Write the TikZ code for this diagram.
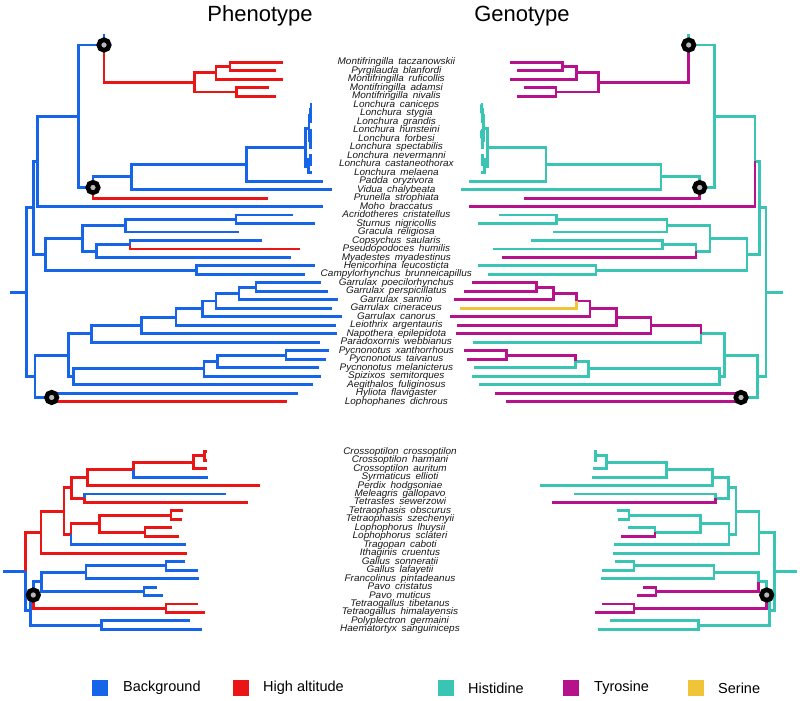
\documentclass[tikz,border=0pt]{standalone}
\usepackage{fontspec}
\setmainfont{Liberation Sans}
\newfontfamily\labfont{Liberation Sans}[WordSpace=1.7,FakeStretch=1.04]
\definecolor{cblue}{RGB}{22,100,232}
\definecolor{cred}{RGB}{234,22,22}
\definecolor{cteal}{RGB}{58,196,180}
\definecolor{cmag}{RGB}{182,18,140}
\definecolor{cyel}{RGB}{240,196,56}
\pgfdeclarelayer{bg}
\pgfsetlayers{bg,main}
\newcommand\mynd[4]{\coordinate (L#2) at (#3,#4);\coordinate (R#2) at ({#1-(#3)},#4);}
\newcommand\mytip[5]{\mynd{#1}{#2}{#3}{#4}\begin{pgfonlayer}{bg}\draw[gline] (L#2) -- (R#2);\end{pgfonlayer}\node[lab] (T#2) at ({(#1)/2},{#4+2.5}) {#5};}
\newcommand\mybr[4]{\draw[branch,#3] (L#1) |- (L#2);\draw[branch,#4] (R#1) |- (R#2);}
\newcommand\myring[1]{\node[ringnode] (CL#1) at (L#1) {};\node[ringnode] (CR#1) at (R#1) {};}
\begin{document}
\begin{tikzpicture}[x=1pt,y=-1pt,
  branch/.style={line width=2.9pt},
  gline/.style={draw=black!17,line width=1pt},
  lab/.style={font=\labfont\itshape\fontsize{9.6}{9.6}\selectfont,anchor=base,inner sep=0pt,text=black!90},
  ringnode/.style={circle,draw=black,fill=black!28,line width=4.6pt,minimum size=10.5pt,inner sep=0pt},
  title/.style={font=\fontsize{22}{22}\selectfont,anchor=base,inner sep=0pt},
  legsq/.style={minimum size=16pt,inner sep=0pt},
  legtx/.style={font=\fontsize{14.5}{14.5}\selectfont,anchor=west,inner sep=0pt},
]
\useasboundingbox[fill=white] (0,0) rectangle (800,701);

\node[title] (ph) at (260,22) {Phenotype};
\node[title] (ge) at (522,22) {Genotype};

% ---------- upper tree tips (axis 792.7) ----------
\mytip{792.7}{u0}{282.7}{62.3}{Montifringilla taczanowskii}
\mytip{792.7}{u1}{276}{70.8}{Pyrgilauda blanfordi}
\mytip{792.7}{u2}{282.7}{79.3}{Montifringilla ruficollis}
\mytip{792.7}{u3}{269}{87.8}{Montifringilla adamsi}
\mytip{792.7}{u4}{276}{96.2}{Montifringilla nivalis}
\mytip{792.7}{u5}{312}{104.7}{Lonchura caniceps}
\mytip{792.7}{u6}{312}{113.2}{Lonchura stygia}
\mytip{792.7}{u7}{312}{121.7}{Lonchura grandis}
\mytip{792.7}{u8}{312}{130.2}{Lonchura hunsteini}
\mytip{792.7}{u9}{312}{138.7}{Lonchura forbesi}
\mytip{792.7}{u10}{312}{147.2}{Lonchura spectabilis}
\mytip{792.7}{u11}{312}{155.6}{Lonchura nevermanni}
\mytip{792.7}{u12}{312}{164.1}{Lonchura castaneothorax}
\mytip{792.7}{u13}{312}{172.6}{Lonchura melaena}
\mytip{792.7}{u14}{323.3}{181.1}{Padda oryzivora}
\mytip{792.7}{u15}{331.7}{189.6}{Vidua chalybeata}
\mytip{792.7}{u16}{268.3}{198.1}{Prunella strophiata}
\mytip{792.7}{u17}{323.3}{206.5}{Moho braccatus}
\mytip{792.7}{u18}{293.3}{215.0}{Acridotheres cristatellus}
\mytip{792.7}{u19}{315}{223.5}{Sturnus nigricollis}
\mytip{792.7}{u20}{239.3}{232.0}{Gracula religiosa}
\mytip{792.7}{u21}{261.7}{240.5}{Copsychus saularis}
\mytip{792.7}{u22}{300}{249.0}{Pseudopodoces humilis}
\mytip{792.7}{u23}{291}{257.5}{Myadestes myadestinus}
\mytip{792.7}{u24}{315}{265.9}{Henicorhina leucosticta}
\mytip{792.7}{u25}{305}{274.4}{Campylorhynchus brunneicapillus}
\mytip{792.7}{u26}{321}{282.9}{Garrulax poecilorhynchus}
\mytip{792.7}{u27}{328.3}{291.4}{Garrulax perspicillatus}
\mytip{792.7}{u28}{338.3}{299.9}{Garrulax sannio}
\mytip{792.7}{u29}{332.3}{308.4}{Garrulax cineraceus}
\mytip{792.7}{u30}{342.3}{316.9}{Garrulax canorus}
\mytip{792.7}{u31}{335.5}{325.4}{Leiothrix argentauris}
\mytip{792.7}{u32}{336.5}{333.8}{Napothera epilepidota}
\mytip{792.7}{u33}{320}{342.3}{Paradoxornis webbianus}
\mytip{792.7}{u34}{328.5}{350.8}{Pycnonotus xanthorrhous}
\mytip{792.7}{u35}{326}{359.3}{Pycnonotus taivanus}
\mytip{792.7}{u36}{318.7}{367.8}{Pycnonotus melanicterus}
\mytip{792.7}{u37}{321}{376.2}{Spizixos semitorques}
\mytip{792.7}{u38}{313.3}{384.7}{Aegithalos fuliginosus}
\mytip{792.7}{u39}{298}{393.2}{Hyliota flavigaster}
\mytip{792.7}{u40}{286.7}{401.7}{Lophophanes dichrous}

% ---------- upper tree internal nodes ----------
\mynd{792.7}{M3}{230}{66.55}
\mynd{792.7}{M2}{216}{72.9}
\mynd{792.7}{M5}{236.7}{92.0}
\mynd{792.7}{M1}{194.3}{82.45}
\mynd{792.7}{M0}{104}{45}
\mynd{792.7}{M0t}{104}{34}
\mynd{792.7}{LA11}{311}{108.95}
\mynd{792.7}{LA1}{310.2}{115.3}
\mynd{792.7}{LA21}{311}{134.45}
\mynd{792.7}{LA2}{310.2}{140.8}
\mynd{792.7}{LA}{309}{128.05}
\mynd{792.7}{LB1}{310.3}{159.85}
\mynd{792.7}{LB}{308.3}{166.2}
\mynd{792.7}{L0}{305.5}{147.1}
\mynd{792.7}{X}{246.7}{164.1}
\mynd{792.7}{W}{131.7}{176.85}
\mynd{792.7}{V}{93}{187.5}
\mynd{792.7}{N8}{78.3}{116.25}
\mynd{792.7}{N2}{37.7}{161.4}
\mynd{792.7}{AS}{236}{219.25}
\mynd{792.7}{N6}{125.7}{225.6}
\mynd{792.7}{CP}{130}{244.75}
\mynd{792.7}{N7}{96.7}{251.1}
\mynd{792.7}{N5}{82.7}{238.35}
\mynd{792.7}{HC}{196.7}{270.15}
\mynd{792.7}{N3}{45.7}{254.25}
\mynd{792.7}{N1}{33.3}{207.8}
\mynd{792.7}{G6}{256}{287.15}
\mynd{792.7}{G5}{239}{293.5}
\mynd{792.7}{G4}{216}{300.95}
\mynd{792.7}{G3}{202.7}{308.9}
\mynd{792.7}{G2}{176}{317.15}
\mynd{792.7}{G1}{141.7}{325.5}
\mynd{792.7}{G0}{91.7}{333.9}
\mynd{792.7}{XT}{286}{355.05}
\mynd{792.7}{P2}{217.3}{361.4}
\mynd{792.7}{P1}{204}{368.8}
\mynd{792.7}{N11}{73.3}{376.75}
\mynd{792.7}{N9}{68.3}{355.3}
\mynd{792.7}{N10}{51.7}{397.45}
\mynd{792.7}{N4}{35}{376.4}
\mynd{792.7}{U}{26.7}{292.1}
\mynd{792.7}{Us}{10}{292.1}

% ---------- upper tree branches ----------
\draw[branch,cblue] (LUs) -- (LU); \draw[branch,cteal] (RUs) -- (RU);
\draw[branch,cblue] (LM0) -- (LM0t); \draw[branch,cteal] (RM0) -- (RM0t);
\mybr{U}{N1}{cblue}{cteal}
\mybr{U}{N4}{cblue}{cteal}
\mybr{N1}{N2}{cblue}{cteal}
\mybr{N1}{N3}{cblue}{cteal}
\mybr{N2}{N8}{cblue}{cteal}
\mybr{N2}{u17}{cblue}{cmag}
\mybr{N8}{M0}{cblue}{cteal}
\mybr{N8}{V}{cblue}{cteal}
\mybr{M0}{M1}{cred}{cmag}
\mybr{M1}{M2}{cred}{cmag}
\mybr{M1}{M5}{cred}{cmag}
\mybr{M2}{M3}{cred}{cmag}
\mybr{M2}{u2}{cred}{cmag}
\mybr{M3}{u0}{cred}{cmag}
\mybr{M3}{u1}{cred}{cmag}
\mybr{M5}{u3}{cred}{cmag}
\mybr{M5}{u4}{cred}{cmag}
\mybr{V}{W}{cblue}{cteal}
\mybr{V}{u16}{cred}{cmag}
\mybr{W}{X}{cblue}{cteal}
\mybr{W}{u15}{cblue}{cteal}
\mybr{X}{L0}{cblue}{cteal}
\mybr{X}{u14}{cblue}{cteal}
\mybr{L0}{LA}{cblue}{cteal}
\mybr{L0}{LB}{cblue}{cteal}
\mybr{LA}{LA1}{cblue}{cteal}
\mybr{LA}{LA2}{cblue}{cteal}
\mybr{LA1}{LA11}{cblue}{cteal}
\mybr{LA1}{u7}{cblue}{cteal}
\mybr{LA11}{u5}{cblue}{cteal}
\mybr{LA11}{u6}{cblue}{cteal}
\mybr{LA2}{LA21}{cblue}{cteal}
\mybr{LA2}{u10}{cblue}{cteal}
\mybr{LA21}{u8}{cblue}{cteal}
\mybr{LA21}{u9}{cblue}{cteal}
\mybr{LB}{LB1}{cblue}{cteal}
\mybr{LB}{u13}{cblue}{cteal}
\mybr{LB1}{u11}{cblue}{cteal}
\mybr{LB1}{u12}{cblue}{cteal}
\mybr{N3}{N5}{cblue}{cteal}
\mybr{N3}{HC}{cblue}{cteal}
\mybr{HC}{u24}{cblue}{cteal}
\mybr{HC}{u25}{cblue}{cteal}
\mybr{N5}{N6}{cblue}{cteal}
\mybr{N5}{N7}{cblue}{cteal}
\mybr{N6}{AS}{cblue}{cteal}
\mybr{N6}{u20}{cblue}{cteal}
\mybr{AS}{u18}{cblue}{cteal}
\mybr{AS}{u19}{cblue}{cteal}
\mybr{N7}{CP}{cblue}{cteal}
\mybr{N7}{u23}{cblue}{cmag}
\mybr{CP}{u21}{cblue}{cteal}
\mybr{CP}{u22}{cred}{cteal}
\mybr{N4}{N9}{cblue}{cteal}
\mybr{N4}{N10}{cblue}{cteal}
\mybr{N10}{u39}{cblue}{cmag}
\mybr{N10}{u40}{cred}{cmag}
\mybr{N9}{G0}{cblue}{cteal}
\mybr{N9}{N11}{cblue}{cteal}
\mybr{G0}{G1}{cblue}{cmag}
\mybr{G0}{u33}{cblue}{cteal}
\mybr{G1}{G2}{cblue}{cmag}
\mybr{G1}{u32}{cblue}{cmag}
\mybr{G2}{G3}{cblue}{cmag}
\mybr{G2}{u31}{cblue}{cmag}
\mybr{G3}{G4}{cblue}{cmag}
\mybr{G3}{u30}{cblue}{cmag}
\mybr{G4}{G5}{cblue}{cmag}
\mybr{G4}{u29}{cblue}{cyel}
\mybr{G5}{G6}{cblue}{cmag}
\mybr{G5}{u28}{cblue}{cmag}
\mybr{G6}{u26}{cblue}{cmag}
\mybr{G6}{u27}{cblue}{cmag}
\mybr{N11}{P1}{cblue}{cteal}
\mybr{N11}{u38}{cblue}{cteal}
\mybr{P1}{P2}{cblue}{cteal}
\mybr{P1}{u37}{cblue}{cteal}
\mybr{P2}{XT}{cblue}{cmag}
\mybr{P2}{u36}{cblue}{cteal}
\mybr{XT}{u34}{cblue}{cmag}
\mybr{XT}{u35}{cblue}{cmag}

% ---------- lower tree tips (axis 800) ----------
\mytip{800}{l0}{206.5}{451.7}{Crossoptilon crossoptilon}
\mytip{800}{l1}{206.5}{460.16}{Crossoptilon harmani}
\mytip{800}{l2}{206.7}{468.62}{Crossoptilon auritum}
\mytip{800}{l3}{208.3}{477.08}{Syrmaticus ellioti}
\mytip{800}{l4}{260}{485.54}{Perdix hodgsoniae}
\mytip{800}{l5}{225.7}{494.0}{Meleagris gallopavo}
\mytip{800}{l6}{248.3}{502.46}{Tetrastes sewerzowi}
\mytip{800}{l7}{183.3}{510.92}{Tetraophasis obscurus}
\mytip{800}{l8}{181.7}{519.38}{Tetraophasis szechenyii}
\mytip{800}{l9}{171.7}{527.84}{Lophophorus lhuysii}
\mytip{800}{l10}{179.3}{536.3}{Lophophorus sclateri}
\mytip{800}{l11}{185.7}{544.76}{Tragopan caboti}
\mytip{800}{l12}{187.3}{553.22}{Ithaginis cruentus}
\mytip{800}{l13}{185}{561.68}{Gallus sonneratii}
\mytip{800}{l14}{197.7}{570.14}{Gallus lafayetii}
\mytip{800}{l15}{199}{578.6}{Francolinus pintadeanus}
\mytip{800}{l16}{156.7}{587.06}{Pavo cristatus}
\mytip{800}{l17}{163.3}{595.52}{Pavo muticus}
\mytip{800}{l18}{198.3}{603.98}{Tetraogallus tibetanus}
\mytip{800}{l19}{205}{612.44}{Tetraogallus himalayensis}
\mytip{800}{l20}{190}{620.9}{Polyplectron germaini}
\mytip{800}{l21}{202}{629.36}{Haematortyx sanguiniceps}

% ---------- lower tree internal nodes ----------
\mynd{800}{C2}{204.5}{455.93}
\mynd{800}{C1}{193.3}{462.3}
\mynd{800}{C3}{133.3}{469.7}
\mynd{800}{C4}{87.3}{477.6}
\mynd{800}{C6}{84.3}{498.23}
\mynd{800}{C5}{71.7}{487.9}
\mynd{800}{C10}{171}{515.15}
\mynd{800}{C11}{145}{532.07}
\mynd{800}{C9}{99.3}{523.6}
\mynd{800}{C8}{71}{534.2}
\mynd{800}{C7}{64}{511.05}
\mynd{800}{C12}{41}{532.1}
\mynd{800}{Gs}{166}{565.9}
\mynd{800}{GF}{86}{572.25}
\mynd{800}{Pv}{144}{591.3}
\mynd{800}{S}{41.7}{581.8}
\mynd{800}{Tg}{166}{608.2}
\mynd{800}{Q}{33.3}{595.0}
\mynd{800}{PH}{101.7}{625.1}
\mynd{800}{R}{30.7}{610.05}
\mynd{800}{K}{25.7}{571.1}
\mynd{800}{Ks}{3.3}{571.1}

% ---------- lower tree branches ----------
\draw[branch,cblue] (LKs) -- (LK); \draw[branch,cteal] (RKs) -- (RK);
\mybr{K}{C12}{cred}{cteal}
\mybr{K}{R}{cblue}{cteal}
\mybr{C12}{C7}{cred}{cteal}
\mybr{C12}{l12}{cred}{cteal}
\mybr{C7}{C5}{cred}{cteal}
\mybr{C7}{C8}{cred}{cteal}
\mybr{C5}{C4}{cred}{cteal}
\mybr{C5}{C6}{cred}{cteal}
\mybr{C4}{C3}{cred}{cteal}
\mybr{C4}{l4}{cred}{cteal}
\mybr{C3}{C1}{cred}{cteal}
\mybr{C3}{l3}{cblue}{cteal}
\mybr{C1}{C2}{cred}{cteal}
\mybr{C1}{l2}{cred}{cteal}
\mybr{C2}{l0}{cred}{cteal}
\mybr{C2}{l1}{cred}{cteal}
\mybr{C6}{l5}{cblue}{cteal}
\mybr{C6}{l6}{cred}{cmag}
\mybr{C8}{C9}{cred}{cteal}
\mybr{C8}{l11}{cblue}{cteal}
\mybr{C9}{C10}{cred}{cteal}
\mybr{C9}{C11}{cred}{cteal}
\mybr{C10}{l7}{cred}{cteal}
\mybr{C10}{l8}{cred}{cteal}
\mybr{C11}{l9}{cred}{cteal}
\mybr{C11}{l10}{cred}{cmag}
\mybr{R}{Q}{cblue}{cteal}
\mybr{R}{PH}{cblue}{cteal}
\mybr{Q}{S}{cblue}{cteal}
\mybr{Q}{Tg}{cred}{cmag}
\mybr{S}{GF}{cblue}{cteal}
\mybr{S}{Pv}{cblue}{cmag}
\mybr{GF}{Gs}{cblue}{cteal}
\mybr{GF}{l15}{cblue}{cteal}
\mybr{Gs}{l13}{cblue}{cteal}
\mybr{Gs}{l14}{cblue}{cteal}
\mybr{Pv}{l16}{cblue}{cmag}
\mybr{Pv}{l17}{cblue}{cmag}
\mybr{Tg}{l18}{cred}{cmag}
\mybr{Tg}{l19}{cred}{cmag}
\mybr{PH}{l20}{cblue}{cteal}
\mybr{PH}{l21}{cblue}{cteal}

% ---------- state-change rings ----------
\myring{M0}
\myring{V}
\myring{N10}
\myring{Q}

% ---------- legend ----------
\node[legsq,fill=cblue] (k1) at (100,688) {};
\node[legtx] (t1) at (123,688) {Background};
\node[legsq,fill=cred] (k2) at (241,688) {};
\node[legtx] (t2) at (263,688) {High altitude};
\node[legsq,fill=cteal] (k3) at (446,688) {};
\node[legtx] (t3) at (468,688) {Histidine};
\node[legsq,fill=cmag] (k4) at (571,688) {};
\node[legtx] (t4) at (594,688) {Tyrosine};
\node[legsq,fill=cyel] (k5) at (696,688) {};
\node[legtx] (t5) at (718,688) {Serine};
\end{tikzpicture}
\end{document}
